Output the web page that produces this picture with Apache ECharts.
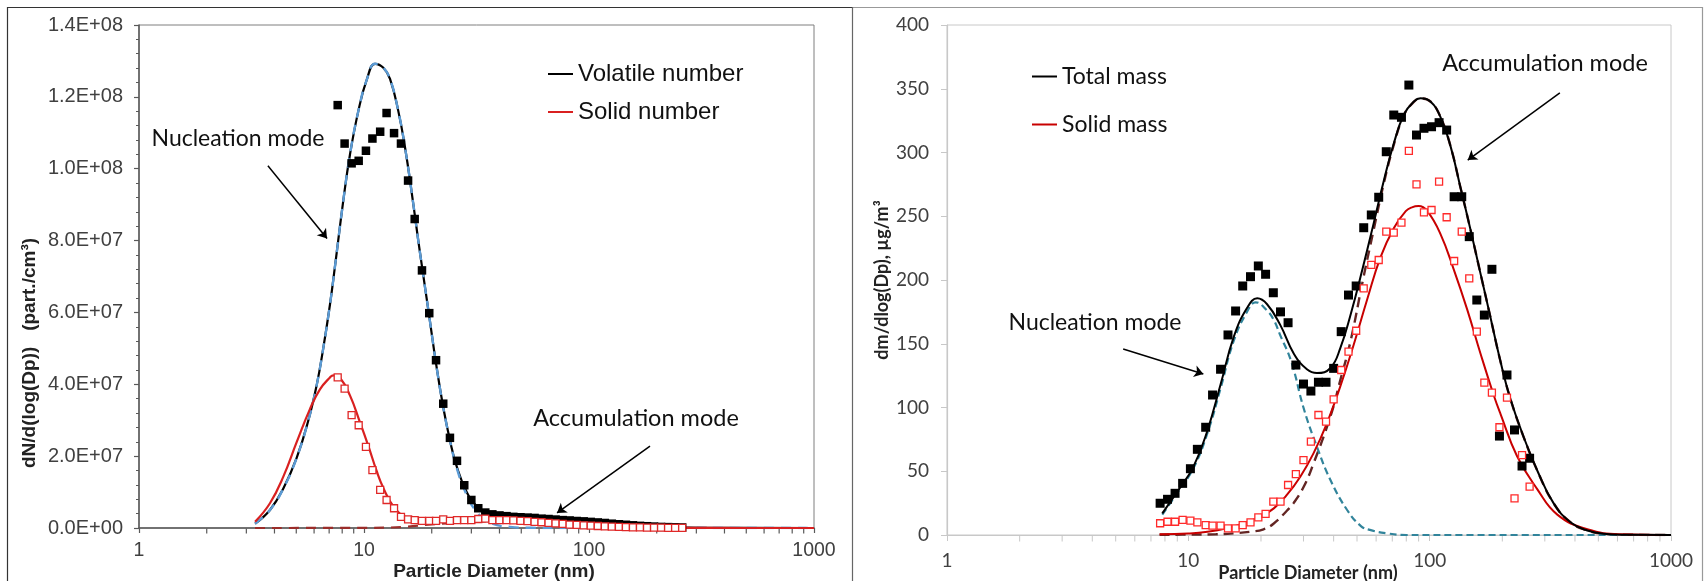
<!DOCTYPE html>
<html>
<head>
<meta charset="utf-8">
<script src="https://cdn.jsdelivr.net/npm/echarts@6/dist/echarts.min.js"></script>
<style>
html,body{margin:0;padding:0;background:#fff;}
#chart{width:1708px;height:581px;}
</style>
</head>
<body>
<div id="chart"></div>
<script>
// SMPS channel mid-point diameters (nm), 32 channels per decade
const channelDiameters = [7.64, 8.20, 8.81, 9.47, 10.2, 10.9, 11.8, 12.6, 13.6, 14.6, 15.7, 16.8, 18.1, 19.5, 20.9, 22.5, 24.1, 25.9, 27.9, 30.0, 32.2, 34.6, 37.2, 40.0, 43.0, 46.1, 49.6, 53.3, 57.3, 61.5, 66.1, 71.0, 76.4, 82.0, 88.2, 94.7, 101.8, 109.4, 117.6, 126.3, 135.8, 145.9, 156.8, 168.5, 181.1, 194.6, 209.1, 224.7, 241.4, 259.5];

// ---- Number size distribution, dN/dlog(Dp) (part./cm3) ----
const volatileNumberMeasured = [1.177e8, 1.070e8, 1.015e8, 1.022e8, 1.050e8, 1.084e8, 1.103e8, 1.155e8, 1.099e8, 1.070e8, 9.67e7, 8.60e7, 7.17e7, 5.98e7, 4.67e7, 3.46e7, 2.51e7, 1.87e7, 1.19e7, 7.8e6, 5.5e6, 4.3e6, 3.8e6, 3.5e6, 3.3e6, 3.1e6, 3.0e6, 2.9e6, 2.8e6, 2.6e6, 2.5e6, 2.35e6, 2.2e6, 2.1e6, 1.95e6, 1.85e6, 1.7e6, 1.55e6, 1.4e6, 1.2e6, 1.05e6, 0.9e6, 0.75e6, 0.6e6, 0.5e6, 0.4e6, 0.3e6, 0.25e6, 0.2e6, 0.15e6];
const solidNumberMeasured = [4.19e7, 3.88e7, 3.14e7, 2.86e7, 2.26e7, 1.61e7, 1.06e7, 7.8e6, 5.5e6, 3.1e6, 2.4e6, 2.2e6, 2.0e6, 2.0e6, 2.0e6, 2.4e6, 2.0e6, 2.2e6, 2.2e6, 2.2e6, 2.5e6, 2.6e6, 2.2e6, 2.2e6, 2.2e6, 2.1e6, 2.0e6, 1.9e6, 1.7e6, 1.6e6, 1.45e6, 1.3e6, 1.15e6, 0.95e6, 0.85e6, 0.75e6, 0.65e6, 0.55e6, 0.45e6, 0.38e6, 0.3e6, 0.25e6, 0.2e6, 0.15e6, 0.12e6, 0.1e6, 0.08e6, 0.06e6, 0.05e6, 0.04e6];

const volatileFitD = [3.28, 3.82, 4.38, 5.02, 5.66, 6.16, 6.59, 7.06, 7.43, 8.09, 8.66, 9.44, 10.28, 11.2, 12.19, 13.05, 14.2, 15.2, 16.3, 17.4, 18.1, 19.5, 20.9, 22.5, 24.1, 25.8, 28.6, 31.7, 36.3, 44.6, 67.1, 100, 150, 200, 280, 400, 1000];
const volatileFitN = [1.2e6, 5.0e6, 1.1e7, 1.95e7, 3.0e7, 3.97e7, 5.0e7, 6.22e7, 7.28e7, 9.11e7, 1.039e8, 1.161e8, 1.247e8, 1.292e8, 1.281e8, 1.25e8, 1.161e8, 1.061e8, 9.33e7, 8.03e7, 7.28e7, 5.89e7, 4.58e7, 3.36e7, 2.44e7, 1.72e7, 1.0e7, 6.1e6, 4.0e6, 3.05e6, 2.4e6, 1.75e6, 0.8e6, 0.35e6, 0.1e6, 0.02e6, 0];

const nucleationNumberD = [3.28, 3.82, 4.38, 5.02, 5.66, 6.16, 6.59, 7.06, 7.43, 8.09, 8.66, 9.44, 10.28, 11.2, 12.19, 13.05, 14.2, 15.2, 16.3, 17.4, 18.1, 19.5, 20.9, 22.5, 24.1, 25.8, 28.6, 31.7, 36.3, 44.6, 55, 70, 1000];
const nucleationNumberN = [1.2e6, 5.0e6, 1.1e7, 1.95e7, 3.0e7, 3.97e7, 5.0e7, 6.22e7, 7.28e7, 9.11e7, 1.039e8, 1.161e8, 1.247e8, 1.292e8, 1.281e8, 1.25e8, 1.161e8, 1.061e8, 9.33e7, 8.03e7, 7.28e7, 5.89e7, 4.58e7, 3.36e7, 2.44e7, 1.68e7, 9.2e6, 4.5e6, 1.5e6, 0.3e6, 0.05e6, 0, 0];

const solidFitD = [3.28, 3.82, 4.38, 5.02, 5.75, 6.37, 7.06, 7.3, 7.82, 8.66, 9.6, 10.46, 11.39, 12.2, 13.5, 15.5, 18.4, 25, 35, 50, 70, 100, 150, 200, 280, 500, 1000];
const solidFitN = [1.75e6, 6.9e6, 1.43e7, 2.39e7, 3.31e7, 3.86e7, 4.19e7, 4.25e7, 4.18e7, 3.69e7, 2.94e7, 2.28e7, 1.58e7, 1.11e7, 6.1e6, 2.9e6, 2.2e6, 2.1e6, 2.2e6, 2.0e6, 1.4e6, 0.7e6, 0.25e6, 0.1e6, 0.04e6, 0, 0];

const accumNumberD = [3.28, 10, 15, 20, 30, 40, 50, 60, 80, 100, 150, 200, 300, 500, 1000];
const accumNumberN = [0, 0.05e6, 0.3e6, 1.0e6, 1.6e6, 1.9e6, 1.9e6, 1.6e6, 1.1e6, 0.7e6, 0.25e6, 0.1e6, 0.02e6, 0, 0];

// ---- Mass size distribution, dm/dlog(Dp) (ug/m3) ----
const totalMassMeasured = [24.9, 28, 32.7, 40.5, 52, 67.2, 84.5, 109.8, 130, 156.9, 175.7, 195.3, 202.6, 211, 204.5, 190, 175, 166.5, 133.3, 118.4, 112.9, 119.8, 119.8, 130.7, 159.5, 188.2, 195.3, 241, 251, 264.9, 300.6, 329.4, 327.6, 352.9, 313.7, 319, 320.2, 323.4, 317.6, 265.3, 265.3, 234, 184.3, 172.5, 208.4, 77.6, 125.5, 82.4, 54.1, 60.2];
const solidMassMeasured = [9.2, 10.4, 10.4, 11.8, 11.2, 9.9, 7.8, 7.3, 7.3, 5.2, 5.2, 7.8, 9.9, 13.9, 16.5, 26.1, 26.1, 39.2, 47.8, 58.8, 73.2, 94.1, 88.9, 106.4, 129.4, 143.8, 160.2, 193.5, 211.8, 215.7, 237.9, 237.1, 245, 301.2, 275, 253.1, 254.9, 277.1, 249.2, 214.9, 237.9, 201.3, 159.5, 119.5, 111.6, 84.5, 107.7, 28.8, 62.7, 37.9];

const totalMassFitD = [7.8, 9.0, 10.5, 12.0, 13.6, 15.4, 17.5, 19.3, 21.2, 24.0, 27.4, 31.0, 34.1, 38.8, 42.7, 46.9, 52.9, 58.7, 64.6, 71.0, 78.3, 86.0, 91.6, 100.7, 110.8, 122.0, 134.0, 147.0, 162.0, 178.0, 196.0, 215.0, 245.0, 280.0, 326.0, 383.0, 450.0, 526.0, 650.0, 1000.0];
const totalMassFitM = [17, 34, 53.6, 82, 118, 155, 178, 185.6, 181, 165, 142, 130, 127, 131, 147, 172, 210, 245, 278, 307, 330, 340, 342.5, 340, 328, 305, 273, 241, 206, 172, 137, 108, 77, 50, 25, 10, 3.5, 1.0, 0.2, 0];

const nucleationMassD = [7.8, 9.0, 10.5, 12.0, 13.6, 15.4, 17.5, 19.0, 21.2, 22.6, 24.0, 26.7, 30.1, 34.1, 38.8, 45.5, 51.9, 56.5, 66.6, 80, 100, 1000];
const nucleationMassM = [16, 33, 52.5, 80, 115, 152, 175, 182.5, 176, 168.6, 157, 136, 99, 69.3, 43.1, 19.6, 7, 4, 1.3, 0, 0, 0];

const accumMassD = [7.6, 10, 13, 15.4, 18, 20.5, 22.6, 25.6, 27.3, 30.1, 33, 38.8, 42.7, 47, 52.9, 58.7, 64.6, 71, 78.3, 86, 91.6, 100.7, 110.8, 122, 134, 147, 162, 178, 196, 215, 245, 280, 326, 383, 450, 526, 650, 1000];
const accumMassM = [0.2, 0.3, 0.6, 1.3, 2.5, 4.5, 9, 19, 25, 38, 56, 93, 122, 152, 200, 240, 276, 306, 329.5, 339.7, 342.4, 340, 328, 305, 273, 241, 206, 172, 137, 108, 77, 50, 25, 10, 3.5, 1.0, 0.2, 0];

const solidMassFitD = [7.6, 10, 12, 14.4, 16.9, 19.9, 22.6, 25.6, 29.1, 33, 37.5, 42.7, 48.4, 55, 62.7, 71.2, 79.6, 84.4, 90, 97.8, 110.9, 126, 143, 162, 184, 196.5, 230, 279, 338, 450, 620, 1000];
const solidMassFitM = [0.5, 1.2, 2.5, 5.2, 9.2, 14.4, 20.9, 31.4, 45.7, 64, 87.6, 117, 149, 184.3, 218.3, 241, 254, 257, 258, 254, 236, 208, 177, 143, 110, 95, 62, 36, 16, 4.5, 0.6, 0];

// ---- Axis ticks ----
const minorTickDiameters = [2, 3, 4, 5, 6, 7, 8, 9, 20, 30, 40, 50, 60, 70, 80, 90, 200, 300, 400, 500, 600, 700, 800, 900];

// ---- Annotation arrows, in data units: [from, to] ----
const numberNucleationArrow = [[3.74, 1.008e8], [6.85, 8.06e7]];
const numberAccumArrow = [[186.7, 2.28e7], [72.1, 4.2e6]];
const massNucleationArrow = [[5.37, 145.9], [11.54, 126.3]];
const massAccumArrow = [[346.3, 346.7], [143.8, 294.1]];

const zip = (xs, ys) => xs.map((x, i) => [x, ys[i]]);

function sciLabel(v) {
  if (v === 0) return '0.0E+00';
  const e = Math.floor(Math.log10(Math.abs(v)) + 1e-9);
  const m = v / Math.pow(10, e);
  return m.toFixed(1) + 'E' + (e < 0 ? '-' : '+') + String(Math.abs(e)).padStart(2, '0');
}

const LEFT_AXIS = '#595959';
const RIGHT_AXIS = '#c8c8c8';
const ARIAL = 'Liberation Sans, Arial, sans-serif';
const CAL = 'Lato, Open Sans, sans-serif';
const SMOOTH = 0.45;

function arrowLine(seg) {
  return [{ coord: seg[0] }, { coord: seg[1] }];
}

const chart = echarts.init(document.getElementById('chart'), null, { renderer: 'canvas' });

const option = {
  animation: false,
  backgroundColor: '#ffffff',
  grid: [
    { left: 139, top: 25, width: 675, height: 503, show: true, borderColor: '#7f7f7f', borderWidth: 1, outerBoundsMode: 'none' },
    { left: 947, top: 25, width: 724, height: 510, show: true, borderColor: RIGHT_AXIS, borderWidth: 1, outerBoundsMode: 'none' }
  ],
  xAxis: [
    {
      gridIndex: 0, type: 'log', logBase: 10, min: 1, max: 1000,
      axisLine: { show: true, onZero: false, lineStyle: { color: LEFT_AXIS, width: 1.5 } },
      axisTick: { show: true, inside: false, length: 5, lineStyle: { color: LEFT_AXIS, width: 1.2 } },
      axisLabel: { fontFamily: ARIAL, fontSize: 19.5, color: '#404040', margin: 13, formatter: v => String(Math.round(v)) },
      splitLine: { show: false }
    },
    {
      gridIndex: 1, type: 'log', logBase: 10, min: 1, max: 1000,
      axisLine: { show: true, onZero: false, lineStyle: { color: RIGHT_AXIS, width: 1.2 } },
      axisTick: { show: true, inside: false, length: 6, lineStyle: { color: RIGHT_AXIS, width: 1 } },
      axisLabel: { fontFamily: CAL, fontSize: 19, color: '#404040', margin: 16, formatter: v => String(Math.round(v)) },
      splitLine: { show: false }
    }
  ],
  yAxis: [
    {
      gridIndex: 0, type: 'value', min: 0, max: 1.4e8, interval: 2e7,
      axisLine: { show: true, lineStyle: { color: LEFT_AXIS, width: 1.5 } },
      axisTick: { show: true, inside: false, length: 5, lineStyle: { color: LEFT_AXIS, width: 1.2 } },
      minorTick: { show: true, splitNumber: 5, length: 3, lineStyle: { color: LEFT_AXIS, width: 1 } },
      axisLabel: { fontFamily: ARIAL, fontSize: 20, color: '#404040', margin: 16, formatter: sciLabel },
      splitLine: { show: false }
    },
    {
      gridIndex: 1, type: 'value', min: 0, max: 400, interval: 50,
      axisLine: { show: true, lineStyle: { color: RIGHT_AXIS, width: 1.2 } },
      axisTick: { show: true, inside: false, length: 6, lineStyle: { color: RIGHT_AXIS, width: 1 } },
      axisLabel: { fontFamily: CAL, fontSize: 19, color: '#404040', margin: 18 },
      splitLine: { show: false }
    }
  ],
  legend: [
    {
      data: ['Volatile number', 'Solid number'], orient: 'vertical', left: 543, top: 57,
      icon: 'rect', itemWidth: 25, itemHeight: 2, itemGap: 14, selectedMode: false,
      textStyle: { fontFamily: ARIAL, fontSize: 24, color: '#111', lineHeight: 24 }
    },
    {
      data: ['Total mass', 'Solid mass'], orient: 'vertical', left: 1027, top: 60,
      icon: 'rect', itemWidth: 25, itemHeight: 2, itemGap: 25, selectedMode: false,
      textStyle: { fontFamily: CAL, fontSize: 23, color: '#111', lineHeight: 23 }
    }
  ],
  series: [
    // ===== number distribution =====
    {
      name: 'Volatile number', type: 'line', xAxisIndex: 0, yAxisIndex: 0,
      data: zip(volatileFitD, volatileFitN), symbol: 'none', smooth: SMOOTH,
      itemStyle: { color: '#000' }, lineStyle: { color: '#000', width: 2.2 }, z: 2
    },
    {
      name: 'Nucleation mode fit (number)', type: 'line', xAxisIndex: 0, yAxisIndex: 0,
      data: zip(nucleationNumberD, nucleationNumberN), symbol: 'none', smooth: SMOOTH,
      itemStyle: { color: '#5b9bd5' }, lineStyle: { color: '#5b9bd5', width: 2.4, type: [10, 7] }, z: 3
    },
    {
      name: 'Accumulation mode fit (number)', type: 'line', xAxisIndex: 0, yAxisIndex: 0,
      data: zip(accumNumberD, accumNumberN), symbol: 'none', smooth: SMOOTH,
      itemStyle: { color: '#9b2d2a' }, lineStyle: { color: '#9b2d2a', width: 2.2, type: [10, 7] }, z: 2
    },
    {
      name: 'Solid number', type: 'line', xAxisIndex: 0, yAxisIndex: 0,
      data: zip(solidFitD, solidFitN), symbol: 'none', smooth: SMOOTH,
      itemStyle: { color: '#d92020' }, lineStyle: { color: '#d92020', width: 2.2 }, z: 3
    },
    {
      name: 'Volatile number data', type: 'scatter', xAxisIndex: 0, yAxisIndex: 0,
      data: zip(channelDiameters, volatileNumberMeasured), symbol: 'rect', symbolSize: 8.5,
      itemStyle: { color: '#000', opacity: 1 }, z: 4, clip: false,
      markLine: {
        silent: true, symbol: ['none', 'arrow'], symbolSize: 9, label: { show: false },
        lineStyle: { color: '#000', width: 1.5, type: 'solid', opacity: 1 },
        data: [arrowLine(numberNucleationArrow), arrowLine(numberAccumArrow)]
      }
    },
    {
      name: 'Solid number data', type: 'scatter', xAxisIndex: 0, yAxisIndex: 0,
      data: zip(channelDiameters, solidNumberMeasured), symbol: 'rect', symbolSize: 7,
      itemStyle: { color: '#ffffff', borderColor: '#e02828', borderWidth: 1.3, opacity: 1 }, z: 5, clip: false
    },
    {
      name: 'minor ticks number', type: 'scatter', xAxisIndex: 0, yAxisIndex: 0, silent: true,
      data: minorTickDiameters.map(d => [d, 0]), symbol: 'rect', symbolSize: [1.2, 5], symbolOffset: [0, 3],
      itemStyle: { color: LEFT_AXIS, opacity: 1 }, z: 1, clip: false
    },
    // ===== mass distribution =====
    {
      name: 'Accumulation mode fit (mass)', type: 'line', xAxisIndex: 1, yAxisIndex: 1,
      data: zip(accumMassD, accumMassM), symbol: 'none', smooth: SMOOTH,
      itemStyle: { color: '#632523' }, lineStyle: { color: '#632523', width: 2.4, type: [10, 6] }, z: 2
    },
    {
      name: 'Nucleation mode fit (mass)', type: 'line', xAxisIndex: 1, yAxisIndex: 1,
      data: zip(nucleationMassD, nucleationMassM), symbol: 'none', smooth: SMOOTH,
      itemStyle: { color: '#31849b' }, lineStyle: { color: '#31849b', width: 2.2, type: [7, 4] }, z: 2
    },
    {
      name: 'Solid mass', type: 'line', xAxisIndex: 1, yAxisIndex: 1,
      data: zip(solidMassFitD, solidMassFitM), symbol: 'none', smooth: SMOOTH,
      itemStyle: { color: '#c80000' }, lineStyle: { color: '#c80000', width: 2 }, z: 3
    },
    {
      name: 'Total mass', type: 'line', xAxisIndex: 1, yAxisIndex: 1,
      data: zip(totalMassFitD, totalMassFitM), symbol: 'none', smooth: SMOOTH,
      itemStyle: { color: '#000' }, lineStyle: { color: '#000', width: 2 }, z: 3
    },
    {
      name: 'Total mass data', type: 'scatter', xAxisIndex: 1, yAxisIndex: 1,
      data: zip(channelDiameters, totalMassMeasured), symbol: 'rect', symbolSize: 9,
      itemStyle: { color: '#000', opacity: 1 }, z: 4, clip: false,
      markLine: {
        silent: true, symbol: ['none', 'arrow'], symbolSize: 9, label: { show: false },
        lineStyle: { color: '#000', width: 1.5, type: 'solid', opacity: 1 },
        data: [arrowLine(massNucleationArrow), arrowLine(massAccumArrow)]
      }
    },
    {
      name: 'Solid mass data', type: 'scatter', xAxisIndex: 1, yAxisIndex: 1,
      data: zip(channelDiameters, solidMassMeasured), symbol: 'rect', symbolSize: 7,
      itemStyle: { color: '#ffffff', borderColor: '#ff2a2a', borderWidth: 1.3, opacity: 1 }, z: 5, clip: false
    },
    {
      name: 'minor ticks mass', type: 'scatter', xAxisIndex: 1, yAxisIndex: 1, silent: true,
      data: minorTickDiameters.map(d => [d, 0]), symbol: 'rect', symbolSize: [1, 6], symbolOffset: [0, 3.5],
      itemStyle: { color: RIGHT_AXIS, opacity: 1 }, z: 1, clip: false
    }
  ],
  graphic: [
    // panel frames
    { type: 'line', shape: { x1: 7, y1: 7.5, x2: 853, y2: 7.5 }, style: { stroke: '#333', lineWidth: 1.2 }, silent: true },
    { type: 'line', shape: { x1: 853, y1: 7.5, x2: 1703, y2: 7.5 }, style: { stroke: '#999', lineWidth: 1.2 }, silent: true },
    { type: 'line', shape: { x1: 7.5, y1: 7, x2: 7.5, y2: 581 }, style: { stroke: '#333', lineWidth: 1.2 }, silent: true },
    { type: 'line', shape: { x1: 852.5, y1: 7, x2: 852.5, y2: 581 }, style: { stroke: '#666', lineWidth: 1.2 }, silent: true },
    { type: 'line', shape: { x1: 1702.5, y1: 7, x2: 1702.5, y2: 581 }, style: { stroke: '#999', lineWidth: 1.2 }, silent: true },
    // axis titles
    { type: 'text', x: 494, y: 572, silent: true,
      style: { text: 'Particle Diameter (nm)', fontFamily: ARIAL, fontWeight: 'bold', fontSize: 19, fill: '#222', align: 'center', verticalAlign: 'middle' } },
    { type: 'text', x: 30, y: 353, rotation: Math.PI / 2, silent: true,
      style: { text: 'dN/d(log(Dp))   (part./cm\u00B3)', fontFamily: ARIAL, fontWeight: 'bold', fontSize: 19, fill: '#222', align: 'center', verticalAlign: 'middle' } },
    { type: 'text', x: 1308, y: 573, silent: true,
      style: { text: 'Particle Diameter (nm)', fontFamily: CAL, fontWeight: 'bold', fontSize: 18, fill: '#222', align: 'center', verticalAlign: 'middle' } },
    { type: 'text', x: 882, y: 280, rotation: Math.PI / 2, silent: true,
      style: { text: 'dm/dlog(Dp), \u00B5g/m\u00B3', fontFamily: CAL, fontWeight: 'bold', fontSize: 18, fill: '#222', align: 'center', verticalAlign: 'middle' } },
    // mode annotations
    { type: 'text', x: 238, y: 139, silent: true,
      style: { text: 'Nucleation mode', fontFamily: CAL, fontSize: 23, fill: '#111', align: 'center', verticalAlign: 'middle' } },
    { type: 'text', x: 636, y: 418, silent: true,
      style: { text: 'Accumulation mode', fontFamily: CAL, fontSize: 23.5, fill: '#111', align: 'center', verticalAlign: 'middle' } },
    { type: 'text', x: 1095, y: 323, silent: true,
      style: { text: 'Nucleation mode', fontFamily: CAL, fontSize: 23, fill: '#111', align: 'center', verticalAlign: 'middle' } },
    { type: 'text', x: 1545, y: 63, silent: true,
      style: { text: 'Accumulation mode', fontFamily: CAL, fontSize: 23.5, fill: '#111', align: 'center', verticalAlign: 'middle' } }
  ]
};

chart.setOption(option);
</script>
</body>
</html>
